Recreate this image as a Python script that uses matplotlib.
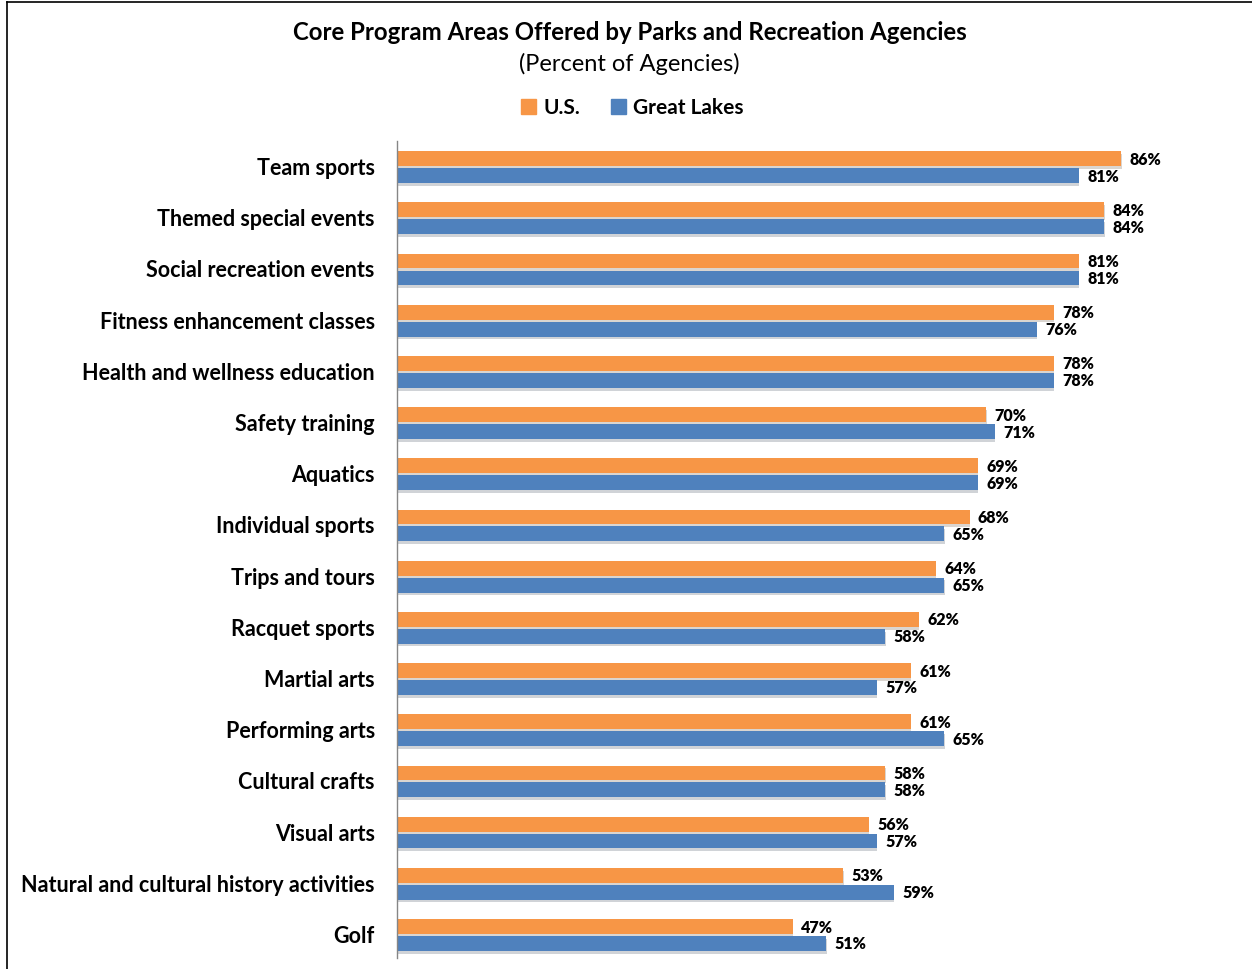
import matplotlib
matplotlib.use('Agg')
from matplotlib import pyplot as plt
from matplotlib.lines import Line2D
from matplotlib.patches import Patch
import matplotlib.patheffects as pe
import numpy as np

categories = ['Team sports', 'Themed special events', 'Social recreation events',
              'Fitness enhancement classes', 'Health and wellness education',
              'Safety training', 'Aquatics', 'Individual sports', 'Trips and tours',
              'Racquet sports', 'Martial arts', 'Performing arts', 'Cultural crafts',
              'Visual arts', 'Natural and cultural history activities', 'Golf']
us = [86, 84, 81, 78, 78, 70, 69, 68, 64, 62, 61, 61, 58, 56, 53, 47]
great_lakes = [81, 84, 81, 76, 78, 71, 69, 65, 65, 58, 57, 65, 58, 57, 59, 51]

ORANGE = '#F79646'
BLUE = '#4F81BD'

plt.rcParams['font.family'] = ['Lato', 'DejaVu Sans']

fig = plt.figure(figsize=(12.52, 9.70), dpi=100)
ax = fig.add_axes([397/1252, 11/970, 842/1252, 817/970])

y = np.arange(len(categories))
h = 0.29
shadow = [pe.SimplePatchShadow(offset=(0.3, -2), alpha=0.2), pe.Normal()]
b1 = ax.barh(y - 0.165, us, height=h, color=ORANGE, path_effects=shadow)
b2 = ax.barh(y + 0.165, great_lakes, height=h, color=BLUE, path_effects=shadow)

for bars, vals in ((b1, us), (b2, great_lakes)):
    for bar, v in zip(bars, vals):
        ax.text(v + 1.0, bar.get_y() + bar.get_height()/2, '%d%%' % v,
                va='center', ha='left', fontsize=11.5, fontweight='heavy')

ax.set_xlim(0, 100)
ax.set_ylim(15.45, -0.51)
ax.set_yticks(y - 0.03)
ax.set_yticklabels(categories, fontsize=15.5, fontweight='bold')
ax.tick_params(axis='y', length=0, pad=16)
ax.set_xticks([])
for s in ('top', 'right', 'bottom'):
    ax.spines[s].set_visible(False)
ax.spines['left'].set_color('#868686')
ax.spines['left'].set_linewidth(1)

fig.text(0.503, 1 - 32.5/970, 'Core Program Areas Offered by Parks and Recreation Agencies',
         ha='center', va='center', fontsize=17.3, fontweight='bold')
fig.text(0.503, 1 - 64/970, '(Percent of Agencies)', ha='center', va='center', fontsize=17)

handles = [Patch(color=ORANGE, label='U.S.'), Patch(color=BLUE, label='Great Lakes')]
fig.legend(handles=handles, loc='center', bbox_to_anchor=(0.505, 1 - 108.5/970), ncol=2,
           frameon=False, prop={'weight': 'bold', 'size': 15},
           handlelength=0.7, handleheight=0.7, handletextpad=0.35, columnspacing=1.5)

# outer frame (top and left edges visible)
fig.add_artist(Line2D([7/1252, 7/1252], [0, 1 - 3/970], transform=fig.transFigure, color='black', lw=1.2))
fig.add_artist(Line2D([7/1252, 1], [1 - 3/970, 1 - 3/970], transform=fig.transFigure, color='black', lw=1.2))

plt.savefig('out.png', dpi=100)
